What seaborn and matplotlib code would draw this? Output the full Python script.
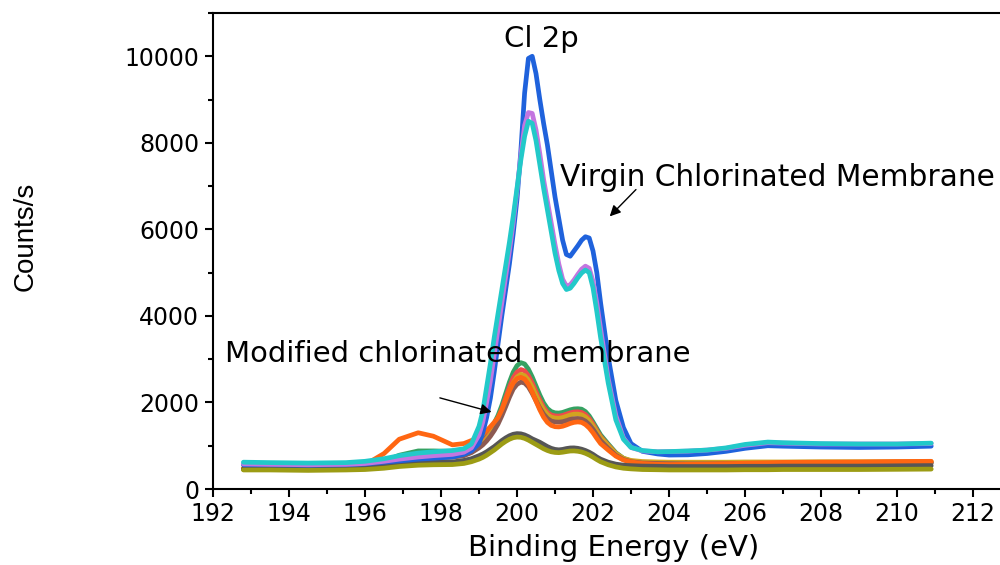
import matplotlib
matplotlib.use("Agg")
import matplotlib.pyplot as plt
import pandas as pd
import seaborn as sns
from matplotlib.ticker import MultipleLocator

# Binding energy grid (eV) shared by all spectra: coarse in the flat
# background, 0.1 eV steps across the Cl 2p doublet
energy = [192.8, 193.5, 194.5, 195.5, 196.0, 196.5, 196.9, 197.4, 197.8, 198.3,
          198.6, 198.8,
          199.0, 199.1, 199.2, 199.3, 199.4, 199.5, 199.6, 199.7, 199.8, 199.9,
          200.0, 200.1, 200.2, 200.3, 200.4, 200.5, 200.6, 200.7, 200.8, 200.9,
          201.0, 201.1, 201.2, 201.3, 201.4, 201.5, 201.6, 201.7, 201.8, 201.9,
          202.0, 202.1, 202.2,
          202.4, 202.6, 202.8, 203.0, 203.3, 203.7, 204.0, 204.5, 205.0, 205.5,
          206.0, 206.6, 207.0, 208.0, 209.0, 210.0, 210.9]

# Virgin chlorinated membrane spectra (counts/s)
virgin_blue = [560, 560, 550, 560, 580, 620, 650, 690, 710, 740,
               800, 880,
               1050, 1300, 1650, 2100, 2700, 3350, 4000, 4600, 5200, 5900,
               6700, 7800, 9150, 9950, 10000, 9600, 9000, 8450, 7950, 7350,
               6750, 6250, 5750, 5420, 5380, 5500, 5620, 5750, 5830, 5800,
               5500, 5000, 4300,
               3050, 2050, 1420, 1050, 870, 810, 785, 790, 820, 870,
               940, 1000, 990, 970, 960, 970, 990]
virgin_violet = [580, 570, 560, 570, 590, 640, 690, 740, 770, 800,
                 850, 950,
                 1250, 1550, 2000, 2500, 3100, 3700, 4300, 4900, 5500, 6150,
                 6900, 7700, 8400, 8700, 8680, 8300, 7750, 7150, 6650, 6150,
                 5650, 5200, 4850, 4690, 4720, 4830, 4960, 5080, 5150, 5100,
                 4800, 4300, 3700,
                 2550, 1700, 1180, 960, 880, 860, 865, 875, 900, 940,
                 1010, 1070, 1060, 1040, 1040, 1040, 1050]
virgin_cyan = [620, 610, 600, 610, 640, 700, 770, 830, 860, 890,
               930, 1040,
               1450, 1800, 2350, 2900, 3500, 4050, 4600, 5150, 5700, 6300,
               6950, 7600, 8150, 8500, 8450, 8050, 7500, 6950, 6450, 5950,
               5450, 5050, 4750, 4610, 4640, 4750, 4880, 4990, 5060, 5000,
               4650, 4100, 3500,
               2450, 1600, 1150, 960, 890, 860, 865, 880, 900, 950,
               1030, 1085, 1070, 1050, 1040, 1040, 1060]

# Modified chlorinated membrane spectra (counts/s)
mod_green = [480, 480, 470, 480, 520, 640, 780, 880, 880, 870,
             900, 980,
             1080, 1160, 1260, 1380, 1520, 1700, 1930, 2200, 2470, 2700,
             2850, 2920, 2890, 2770, 2590, 2380, 2170, 1990, 1860, 1790,
             1760, 1755, 1770, 1800, 1830, 1850, 1855, 1845, 1790, 1690,
             1550, 1400, 1250,
             1040, 840, 710, 645, 610, 595, 590, 590, 590, 590,
             595, 600, 600, 600, 605, 605, 610]
mod_red = [470, 470, 460, 470, 500, 580, 690, 740, 750, 760,
           800, 880,
           1000, 1080, 1180, 1300, 1440, 1620, 1840, 2100, 2350, 2570,
           2700, 2760, 2730, 2620, 2450, 2250, 2060, 1890, 1770, 1710,
           1690, 1685, 1700, 1730, 1760, 1780, 1785, 1770, 1720, 1630,
           1500, 1350, 1210,
           1010, 820, 700, 640, 610, 600, 600, 600, 600, 605,
           610, 610, 610, 615, 615, 620, 620]
mod_gold = [470, 470, 460, 470, 490, 570, 670, 720, 730, 740,
            780, 860,
            980, 1050, 1150, 1270, 1400, 1570, 1780, 2020, 2260, 2460,
            2590, 2650, 2620, 2520, 2360, 2170, 1990, 1830, 1720, 1660,
            1640, 1635, 1650, 1680, 1710, 1730, 1730, 1715, 1665, 1580,
            1460, 1320, 1190,
            1000, 820, 710, 660, 635, 625, 620, 620, 620, 620,
            625, 625, 625, 630, 630, 630, 635]
mod_brown = [460, 460, 450, 460, 490, 560, 670, 720, 730, 740,
             770, 840,
             950, 1020, 1110, 1220, 1350, 1500, 1690, 1900, 2120, 2310,
             2420, 2470, 2450, 2360, 2210, 2040, 1870, 1730, 1630, 1570,
             1550, 1545, 1555, 1580, 1610, 1625, 1630, 1615, 1570, 1490,
             1380, 1250, 1120,
             940, 780, 680, 630, 600, 590, 585, 580, 580, 585,
             590, 590, 595, 595, 600, 600, 600]
mod_orange = [480, 480, 470, 490, 560, 820, 1150, 1300, 1220, 1020,
              1050, 1120,
              1200, 1270, 1350, 1440, 1540, 1650, 1830, 2050, 2270, 2450,
              2550, 2580, 2540, 2420, 2240, 2030, 1830, 1660, 1540, 1470,
              1440, 1435, 1450, 1480, 1515, 1540, 1550, 1540, 1490, 1410,
              1300, 1170, 1050,
              900, 760, 670, 625, 590, 570, 565, 570, 575, 585,
              595, 605, 615, 620, 625, 635, 640]
mod_gray = [460, 460, 450, 460, 480, 520, 570, 610, 620, 625,
            660, 700,
            770, 810, 860, 920, 980, 1050, 1120, 1180, 1230, 1265,
            1280, 1275, 1250, 1210, 1160, 1120, 1080, 1030, 980, 940,
            915, 905, 915, 935, 948, 950, 940, 920, 890, 850,
            800, 740, 690,
            620, 575, 550, 540, 530, 525, 520, 520, 520, 520,
            525, 525, 530, 530, 530, 535, 540]
mod_olive = [440, 440, 430, 440, 450, 480, 520, 550, 560, 565,
             590, 630,
             690, 730, 780, 840, 900, 970, 1040, 1100, 1150, 1185,
             1200, 1195, 1170, 1130, 1080, 1030, 980, 930, 890, 860,
             845, 840, 850, 865, 878, 880, 872, 855, 825, 785,
             735, 680, 630,
             560, 510, 480, 465, 450, 445, 440, 440, 440, 440,
             445, 445, 450, 450, 450, 455, 460]

sample_names = ["M1", "M2", "M3", "M4", "M5", "M6", "M7", "V1", "V2", "V3"]
sample_values = [mod_green, mod_red, mod_gold, mod_brown, mod_orange,
                 mod_gray, mod_olive, virgin_blue, virgin_violet, virgin_cyan]
sample_colors = ["#35a262", "#f04a4a", "#d2a320", "#8c5a52", "#ff6612",
                 "#565656", "#9c9c14", "#1f62dc", "#c376e0", "#22c9c9"]

frames = []
for name, vals in zip(sample_names, sample_values):
    frames.append(pd.DataFrame({"energy": energy, "counts": vals, "sample": name}))
df = pd.concat(frames, ignore_index=True)

sns.set_style("ticks")
plt.rcParams["font.family"] = ["DejaVu Sans"]
plt.rcParams["text.color"] = "black"
plt.rcParams["axes.labelcolor"] = "black"

fig = plt.figure(figsize=(10, 5.65), dpi=100)
ax = fig.add_axes([0.213, 0.1345, 0.787, 0.8425])

sns.lineplot(data=df, x="energy", y="counts", hue="sample",
             hue_order=sample_names,
             palette=dict(zip(sample_names, sample_colors)),
             linewidth=3.4, estimator=None, sort=False, legend=False, ax=ax)

ax.set_xlim(192, 212.71)
ax.set_ylim(0, 11000)
ax.xaxis.set_major_locator(MultipleLocator(2))
ax.xaxis.set_minor_locator(MultipleLocator(1))
ax.yaxis.set_major_locator(MultipleLocator(2000))
ax.yaxis.set_minor_locator(MultipleLocator(1000))

for side in ["left", "bottom", "top"]:
    ax.spines[side].set_linewidth(1.5)
    ax.spines[side].set_color("black")
ax.spines["right"].set_visible(False)

ax.tick_params(axis="both", which="major", direction="out", length=6,
               width=1.5, labelsize=17, color="black", labelcolor="black")
ax.tick_params(axis="both", which="minor", direction="out", length=3.5,
               width=1.5, color="black")
ax.tick_params(axis="y", pad=4)
ax.tick_params(axis="x", pad=3)
ax.tick_params(top=False, right=False, which="both")

ax.set_xlabel("Binding Energy (eV)", fontsize=21)
ax.xaxis.set_label_coords(0.509, -0.095)
ax.set_ylabel("Counts/s", fontsize=20, family=["Liberation Sans", "DejaVu Sans"])
ax.yaxis.set_label_coords(-0.221, 0.53)

ax.text(200.65, 10390, "Cl 2p", ha="center", va="center", fontsize=21)
ax.text(201.12, 7200, "Virgin Chlorinated Membrane", ha="left", va="center",
        fontsize=21.3)
ax.text(192.31, 3125, "Modified chlorinated membrane", ha="left", va="center",
        fontsize=20.9)

arrow_style = dict(arrowstyle="-|>", color="black", lw=1.0, mutation_scale=16,
                   shrinkA=0, shrinkB=0)
ax.annotate("", xy=(202.44, 6300), xytext=(203.13, 6920), arrowprops=arrow_style)
ax.annotate("", xy=(199.33, 1780), xytext=(197.97, 2106), arrowprops=arrow_style)

fig.savefig("out.png", dpi=100)
